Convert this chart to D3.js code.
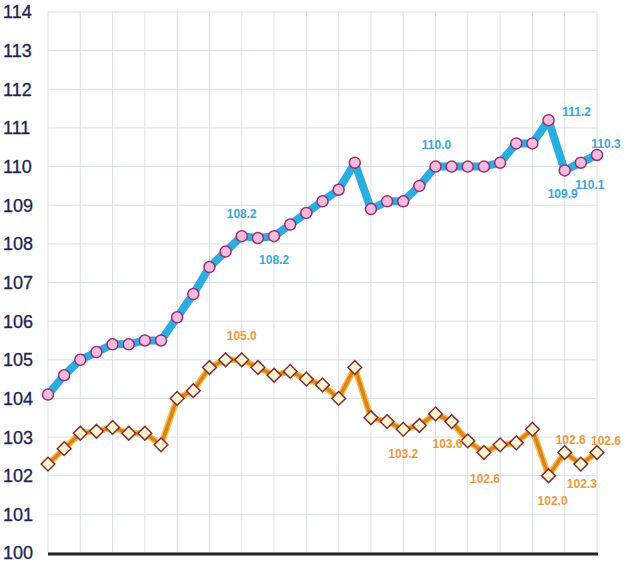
<!DOCTYPE html>
<html>
<head>
<meta charset="utf-8">
<script src="https://cdn.jsdelivr.net/npm/d3@7"></script>
<style>
  body { margin: 0; background: #fff; }
  svg { display: block; font-family: "Liberation Sans", Arial, sans-serif; }
</style>
</head>
<body>
<svg id="chart" width="628" height="564"></svg>
<script>
// data
var blueValues = [104.1, 104.6, 105.0, 105.2, 105.4, 105.4, 105.5, 105.5, 106.1, 106.7,
                  107.4, 107.8, 108.2, 108.15, 108.2, 108.5, 108.8, 109.1, 109.4, 110.1,
                  108.9, 109.1, 109.1, 109.5, 110.0, 110.0, 110.0, 110.0, 110.1, 110.6,
                  110.6, 111.2, 109.9, 110.1, 110.3];
var orangeValues = [102.3, 102.7, 103.1, 103.15, 103.25, 103.1, 103.1, 102.8, 104.0, 104.2,
                    104.8, 105.0, 105.0, 104.8, 104.6, 104.7, 104.5, 104.35, 104.0, 104.8,
                    103.5, 103.4, 103.2, 103.3, 103.6, 103.4, 102.9, 102.6, 102.8, 102.85,
                    103.2, 102.0, 102.6, 102.3, 102.6];
var yTicks = [100, 101, 102, 103, 104, 105, 106, 107, 108, 109, 110, 111, 112, 113, 114];

// labelled points: index, text, dx, dy
var blueLabels = [
  [12, "108.2", 0, -22], [14, "108.2", 0, 24], [24, "110.0", 1, -22],
  [31, "111.2", 28, -9], [32, "109.9", -2, 23], [33, "110.1", 9, 22], [34, "110.3", 9, -11]
];
var orangeLabels = [
  [12, "105.0", 0, -24], [22, "103.2", 0, 24], [24, "103.6", 12, 30], [27, "102.6", 1, 26],
  [31, "102.0", 4, 25], [32, "102.6", 6, -13], [33, "102.3", 1, 20], [34, "102.6", 9, -12]
];

var svg = d3.select("#chart");
var plotLeft = 48, plotRight = 597, plotTop = 12, plotBottom = 553;

var x = d3.scaleLinear().domain([0, blueValues.length - 1]).range([plotLeft, plotRight]);
var y = d3.scaleLinear().domain([100, 114]).range([plotBottom, plotTop]);

// grid
var grid = svg.append("g").attr("stroke", "#dcdfe6").attr("stroke-width", 1);
grid.selectAll(".h").data(yTicks).enter().append("line")
    .attr("x1", plotLeft).attr("x2", plotRight)
    .attr("y1", function(d) { return y(d); }).attr("y2", function(d) { return y(d); });
grid.selectAll(".v").data(d3.range(0, blueValues.length, 2)).enter().append("line")
    .attr("y1", plotTop).attr("y2", plotBottom)
    .attr("x1", function(d) { return x(d); }).attr("x2", function(d) { return x(d); });

// y tick labels
svg.append("g").selectAll("text").data(yTicks).enter().append("text")
    .attr("x", 3)
    .attr("y", function(d) { return y(d); })
    .attr("dy", "0.36em")
    .attr("font-size", 18)
    .attr("fill", "#1c2452")
    .attr("stroke", "#1c2452").attr("stroke-width", 0.3)
    .text(function(d) { return d; });

// baseline
svg.append("line")
    .attr("x1", plotLeft).attr("x2", plotRight + 1)
    .attr("y1", y(100) + 1).attr("y2", y(100) + 1)
    .attr("stroke", "#222").attr("stroke-width", 3);

var line = d3.line()
    .x(function(d, i) { return x(i); })
    .y(function(d) { return y(d); });

// blue series
svg.append("path").datum(blueValues)
    .attr("d", line).attr("fill", "none")
    .attr("stroke", "#2aaee2").attr("stroke-width", 8).attr("stroke-linejoin", "round");
svg.append("g").selectAll("circle").data(blueValues).enter().append("circle")
    .attr("cx", function(d, i) { return x(i); })
    .attr("cy", function(d) { return y(d); })
    .attr("r", 5.5)
    .attr("fill", "#f2bcdc").attr("stroke", "#9c2f78").attr("stroke-width", 1.5);

// orange series
svg.append("path").datum(orangeValues)
    .attr("d", line).attr("fill", "none")
    .attr("stroke", "#f3c440").attr("stroke-width", 6.5).attr("stroke-linejoin", "round");
svg.append("path").datum(orangeValues)
    .attr("d", line).attr("fill", "none")
    .attr("stroke", "#dd7f22").attr("stroke-width", 3.5).attr("stroke-linejoin", "round");
svg.append("g").selectAll("path").data(orangeValues).enter().append("path")
    .attr("d", d3.symbol().type(d3.symbolDiamond2).size(120))
    .attr("transform", function(d, i) { return "translate(" + x(i) + "," + y(d) + ")"; })
    .attr("fill", "#fff6cf").attr("stroke", "#7e2f3a").attr("stroke-width", 1.5);

// value labels
function labels(list, values, color) {
  svg.append("g").selectAll("text").data(list).enter().append("text")
      .attr("x", function(d) { return x(d[0]) + d[2]; })
      .attr("y", function(d) { return y(values[d[0]]) + d[3]; })
      .attr("dy", "0.36em")
      .attr("text-anchor", "middle")
      .attr("font-size", 12)
      .attr("font-weight", "bold")
      .attr("fill", color)
      .text(function(d) { return d[1]; });
}
labels(blueLabels, blueValues, "#3aa7dc");
labels(orangeLabels, orangeValues, "#eb9a3c");
</script>
</body>
</html>
